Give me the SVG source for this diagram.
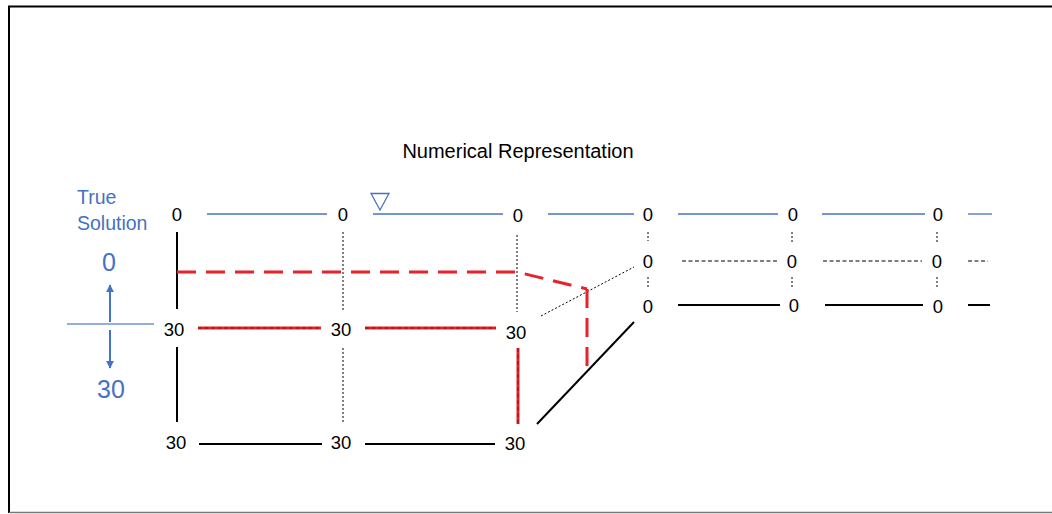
<svg xmlns="http://www.w3.org/2000/svg" width="1052" height="514" viewBox="0 0 1052 514">
<defs>
<style>
text{font-family:"Liberation Sans",Arial,sans-serif;}
.lbl{font-size:18.5px;fill:#000;text-anchor:middle;}
.blue{fill:#4472C4;}
.bl{stroke:#4472C4;stroke-width:1.3;fill:none;}
.solid{stroke:#000;stroke-width:2;fill:none;}
.dot{stroke:#000;stroke-width:1;stroke-dasharray:2 2;fill:none;}
.dash{stroke:#000;stroke-width:1;stroke-dasharray:4 2.5;fill:none;}
.ov{stroke:#000;stroke-opacity:0.45;stroke-width:1;stroke-dasharray:4 2.5;fill:none;}
.red{stroke:#E8212B;stroke-width:3;fill:none;}
.reddash{stroke:#E8212B;stroke-width:3;stroke-dasharray:19 10;fill:none;}
.arr{stroke:#4472C4;stroke-width:2;fill:none;}
</style>
<marker id="ah" viewBox="0 0 10 10" refX="9" refY="5" markerWidth="4" markerHeight="4" orient="auto">
<path d="M0,0 L10,5 L0,10 z" fill="#4472C4"/>
</marker>
</defs>
<rect x="0" y="0" width="1052" height="514" fill="#fff"/>
<path d="M9,513 V6.5 H1052" stroke="#000" stroke-width="2" fill="none"/>
<line x1="9" y1="512.5" x2="1052" y2="512.5" stroke="#777" stroke-width="1.5"/>

<text x="518" y="158" font-size="20" text-anchor="middle" fill="#000">Numerical Representation</text>

<g id="true-solution">
<text x="77" y="204" font-size="19.5" class="blue">True</text>
<text x="77" y="230" font-size="19.5" class="blue">Solution</text>
<text x="109" y="271" font-size="25" text-anchor="middle" class="blue">0</text>
<text x="111" y="398" font-size="25" text-anchor="middle" class="blue">30</text>
<line x1="67" y1="324" x2="154" y2="324" stroke="#6F95D2" stroke-width="1.3"/>
<line x1="110" y1="322" x2="110" y2="285" class="arr" marker-end="url(#ah)"/>
<line x1="110" y1="330" x2="110" y2="368" class="arr" marker-end="url(#ah)"/>
</g>

<g id="connectors">
<line x1="207" y1="214" x2="327" y2="214" class="bl"/>
<line x1="373" y1="214" x2="503" y2="214" class="bl"/>
<line x1="548" y1="214" x2="634" y2="214" class="bl"/>
<line x1="678" y1="214" x2="778" y2="214" class="bl"/>
<line x1="822" y1="214" x2="925" y2="214" class="bl"/>
<line x1="968" y1="214" x2="992" y2="214" class="bl"/>
<path d="M371,193.5 H389 L380,210 Z" fill="none" stroke="#4472C4" stroke-width="1.3"/>
<line x1="177" y1="232" x2="177" y2="309" class="solid"/>
<line x1="177" y1="347" x2="177" y2="422" class="solid"/>
<line x1="343" y1="232" x2="343" y2="311" class="dot"/>
<line x1="343" y1="348" x2="343" y2="424" class="dot"/>
<line x1="517" y1="235" x2="517" y2="312" class="dot"/>
<line x1="518" y1="348" x2="518" y2="424" class="red"/>
<line x1="518" y1="348" x2="518" y2="424" class="ov"/>
<line x1="198" y1="328" x2="321" y2="328" class="red"/>
<line x1="198" y1="328" x2="321" y2="328" class="ov"/>
<line x1="365" y1="328" x2="496" y2="328" class="red"/>
<line x1="365" y1="328" x2="496" y2="328" class="ov"/>
<line x1="199" y1="444" x2="322" y2="444" class="solid"/>
<line x1="365" y1="444" x2="495" y2="444" class="solid"/>
<line x1="537" y1="424" x2="634" y2="322" class="solid"/>
<line x1="541" y1="316" x2="634" y2="267" class="dot"/>
<line x1="648" y1="232" x2="648" y2="241" class="dot"/>
<line x1="648" y1="277" x2="648" y2="289" class="dot"/>
<line x1="792" y1="232" x2="792" y2="242" class="dot"/>
<line x1="792" y1="277" x2="792" y2="288" class="dot"/>
<line x1="937" y1="232" x2="937" y2="242" class="dot"/>
<line x1="937" y1="277" x2="937" y2="288" class="dot"/>
<line x1="682" y1="261" x2="778" y2="261" class="dash"/>
<line x1="823" y1="261" x2="922" y2="261" class="dash"/>
<line x1="968" y1="261" x2="988" y2="261" class="dash"/>
<line x1="678" y1="305" x2="780" y2="305" class="solid"/>
<line x1="825" y1="305" x2="923" y2="305" class="solid"/>
<line x1="968" y1="305" x2="990" y2="305" class="solid"/>
<path d="M177,272 H517 L587,289" class="reddash"/>
<line x1="587" y1="289" x2="587" y2="370" class="reddash" stroke-dasharray="19 12"/>
</g>

<g id="nodes">
<g id="n-top"><text class="lbl" x="177" y="221">0</text><text class="lbl" x="343" y="221">0</text><text class="lbl" x="518" y="222">0</text><text class="lbl" x="648" y="221">0</text><text class="lbl" x="793" y="221">0</text><text class="lbl" x="938" y="221">0</text></g>
<g id="n-mid"><text class="lbl" x="648" y="268">0</text><text class="lbl" x="792" y="268">0</text><text class="lbl" x="937" y="268">0</text></g>
<g id="n-bot"><text class="lbl" x="648" y="313">0</text><text class="lbl" x="794" y="312">0</text><text class="lbl" x="938" y="313">0</text></g>
<g id="n-30a"><text class="lbl" x="174" y="336">30</text><text class="lbl" x="341" y="336">30</text><text class="lbl" x="516" y="339">30</text></g>
<g id="n-30b"><text class="lbl" x="176" y="449">30</text><text class="lbl" x="341" y="449">30</text><text class="lbl" x="515" y="450">30</text></g>
</g>
</svg>
